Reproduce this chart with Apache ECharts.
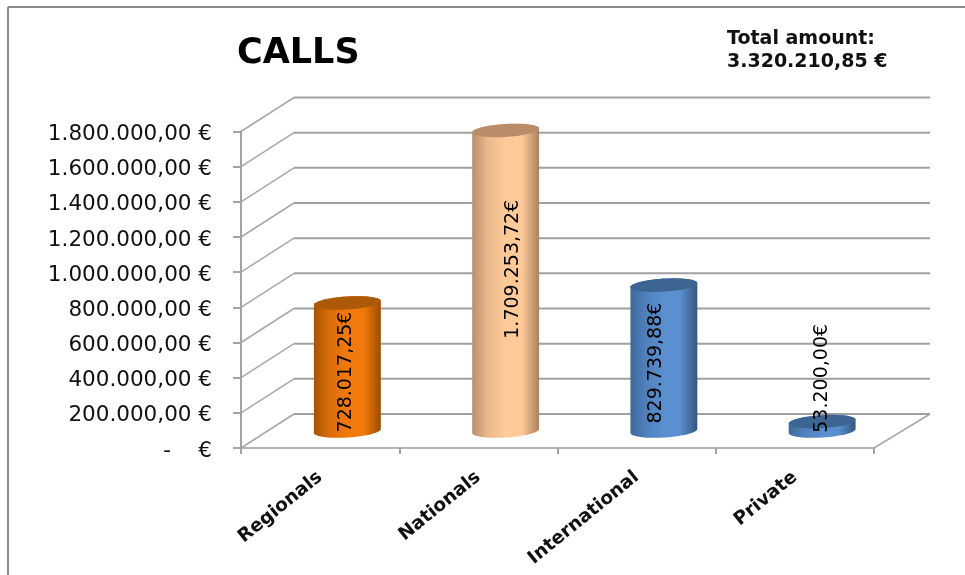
<!DOCTYPE html>
<html>
<head>
<meta charset="utf-8">
<style>html,body{margin:0;padding:0;background:#fff}#c{width:965px;height:575px}</style>
<script src="https://cdn.jsdelivr.net/npm/echarts@6/dist/echarts.min.js"></script>
</head>
<body>
<div id="c"></div>
<script>
const categories = ['Regionals', 'Nationals', 'International', 'Private'];
const amounts = [728017.25, 1709253.72, 829739.88, 53200.00];
const yTicks = [0, 200000, 400000, 600000, 800000, 1000000, 1200000, 1400000, 1600000, 1800000];
const zeroTickLabel = '-    €';
const chartTitle = 'CALLS';
const totalLines = 'Total amount:\n3.320.210,85 €';

const palettes = [
  {edgeL:'#a85204', soft:'#d96c0a', mid:'#f27a0c', edgeR:'#9c4c04', top:'#ad5a08'},
  {edgeL:'#b78e6c', soft:'#e8b78a', mid:'#ffca98', edgeR:'#a9805f', top:'#bb8c68'},
  {edgeL:'#40699a', soft:'#4f80bc', mid:'#5a8fd0', edgeR:'#33577f', top:'#3c6591'},
  {edgeL:'#40699a', soft:'#4f80bc', mid:'#5a8fd0', edgeR:'#33577f', top:'#3c6591'}
];
const labelShift = [[-1, 5], [7, -11.5], [-8, 5], [0, -48]];

const DX_L = 53, DX_R = 56, DY = 34;
const TILT = -3.5 * Math.PI / 180, RY = 6.5, BAR_W = 67;

const money = v => v.toLocaleString('de-DE', {minimumFractionDigits: 2, maximumFractionDigits: 2});

function ellipsePts(cx, cy, rx, ry, from, to, n) {
  const pts = [], c = Math.cos(TILT), s = Math.sin(TILT);
  for (let i = 0; i <= n; i++) {
    const t = from + (to - from) * i / n;
    const ex = rx * Math.cos(t), ey = ry * Math.sin(t);
    pts.push([cx + ex * c - ey * s, cy + ex * s + ey * c]);
  }
  return pts;
}

function renderWall(params, api) {
  const g = params.coordSys;
  const y = api.coord([0, api.value(0)])[1];
  const left = g.x, right = g.x + g.width;
  const line = {stroke:'#a0a0a0', lineWidth:2, lineJoin:'round'};
  const children = [
    {type:'polyline', shape:{points:[[left, y], [left + DX_L, y - DY]]}, style:{stroke:'#a8a8a8', lineWidth:1.5, fill:null}},
    {type:'polyline', shape:{points:[[left + DX_L, y - DY], [right + DX_R, y - DY]]}, style:Object.assign({fill:null}, line)}
  ];
  if (api.value(0) === 0) {
    children.push({type:'polyline', shape:{points:[[right, y], [right + DX_R, y - DY]]}, style:{stroke:'#a8a8a8', lineWidth:1.5, fill:null}});
  }
  return {type:'group', children};
}

function renderBar(params, api) {
  const i = api.value(0), v = api.value(1);
  const base = api.coord([i, 0]), tip = api.coord([i, v]);
  const cx = base[0] + (DX_L + DX_R) / 4, rx = BAR_W / 2;
  const yB = base[1] - DY / 2, yT = tip[1] - DY / 2;
  const p = palettes[i];
  const body = ellipsePts(cx, yB, rx, RY, 0, Math.PI, 24).concat(ellipsePts(cx, yT, rx, RY, Math.PI, 2 * Math.PI, 24));
  const fill = new echarts.graphic.LinearGradient(0, 0, 1, 0, [
    {offset:0, color:p.edgeL}, {offset:0.22, color:p.soft}, {offset:0.5, color:p.mid}, {offset:0.74, color:p.mid}, {offset:1, color:p.edgeR}
  ]);
  return {type:'group', children:[
    {type:'polygon', shape:{points:body}, style:{fill}},
    {type:'polygon', shape:{points:ellipsePts(cx, yT, rx, RY, 0, 2 * Math.PI, 48)}, style:{fill:p.top}}
  ]};
}

function renderLabel(params, api) {
  const i = api.value(0), v = api.value(1);
  const base = api.coord([i, 0]), tip = api.coord([i, v]);
  const cx = base[0] + (DX_L + DX_R) / 4;
  const midY = (base[1] + tip[1]) / 2 - DY / 2;
  return {type:'text', x:cx + labelShift[i][0], y:midY + labelShift[i][1], rotation:Math.PI / 2,
    style:{text:money(v) + '€', fontFamily:'DejaVu Sans', fontSize:19, fill:'#000', align:'center', verticalAlign:'middle'}};
}

const chart = echarts.init(document.getElementById('c'), null, {renderer:'canvas'});
chart.setOption({
  animation:false,
  backgroundColor:'#fff',
  title:[
    {text:chartTitle, left:232, top:31, textStyle:{fontFamily:'DejaVu Sans', fontWeight:'bold', fontSize:35, color:'#000'}},
    {text:totalLines, left:722, top:23, textStyle:{fontFamily:'DejaVu Sans', fontWeight:'bold', fontSize:19, lineHeight:23, color:'#111'}}
  ],
  grid:{left:241, right:91, top:131.5, bottom:127, containLabel:false},
  xAxis:{type:'category', data:categories, boundaryGap:true,
    axisLine:{lineStyle:{color:'#b4b4b4', width:2}},
    axisTick:{show:true, alignWithLabel:false, length:6, lineStyle:{color:'#a3a3a3', width:2}},
    axisLabel:{interval:0, rotate:39, margin:27, fontFamily:'DejaVu Sans', fontWeight:'bold', fontSize:18.5, color:'#111'}},
  yAxis:{type:'value', min:0, max:1800000, interval:200000,
    axisLine:{show:true, lineStyle:{color:'#a3a3a3', width:2}},
    axisTick:{show:true, length:8, lineStyle:{color:'#a3a3a3', width:2}},
    splitLine:{show:false},
    axisLabel:{margin:29, verticalAlign:'top', lineHeight:6, fontFamily:'DejaVu Sans', fontSize:21.5, color:'#111',
      formatter:v => v === 0 ? zeroTickLabel : money(v) + ' €'}},
  series:[
    {type:'custom', coordinateSystem:'cartesian2d', renderItem:renderWall, clip:false, silent:true, z:1,
      encode:{y:0}, data:yTicks.map(v => [v])},
    {type:'custom', coordinateSystem:'cartesian2d', renderItem:renderBar, clip:false, silent:true, z:3,
      encode:{x:0, y:1}, data:amounts.map((v, i) => [i, v])},
    {type:'custom', coordinateSystem:'cartesian2d', renderItem:renderLabel, clip:false, silent:true, z:4,
      encode:{x:0, y:1}, data:amounts.map((v, i) => [i, v])}
  ],
  graphic:[
    {type:'line', shape:{x1:8, y1:7, x2:965, y2:7}, style:{stroke:'#8a8a8a', lineWidth:2}},
    {type:'line', shape:{x1:8, y1:7, x2:8, y2:575}, style:{stroke:'#8a8a8a', lineWidth:2}}
  ]
});
</script>
</body>
</html>
